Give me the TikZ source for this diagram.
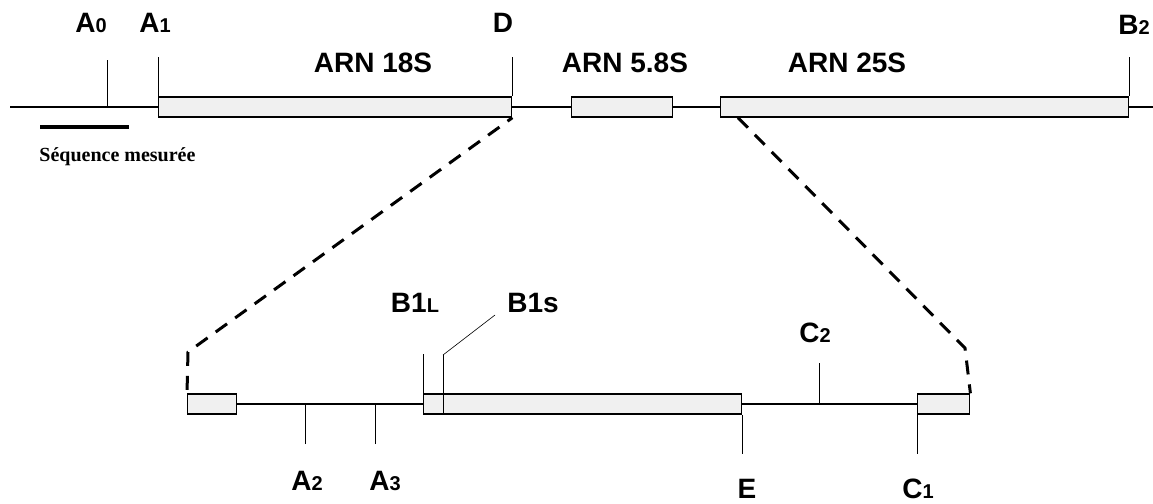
\documentclass[tikz,border=0pt]{standalone}
\usepackage{fontspec}
\setmainfont{Liberation Serif}
\setsansfont{Liberation Sans}
\usetikzlibrary{calc,positioning}

\newcommand{\smallpart}[1]{{\fontsize{10}{10}\selectfont #1}}

\begin{document}
\begin{tikzpicture}[x=0.5pt, y=-0.5pt,
  seg/.style={draw, line width=0.7pt, fill=gray!12, minimum height=10pt, inner sep=0pt, anchor=west},
  mainline/.style={line width=1pt},
  tick/.style={line width=0.5pt},
  lab/.style={font=\sffamily\bfseries\fontsize{14}{14}\selectfont, inner sep=0pt},
  zoomline/.style={line width=1.5pt, dash pattern=on 7pt off 5pt}
]
\useasboundingbox (0,0) rectangle (1153,504);

% precurseur
\coordinate (start) at (10,107);
\coordinate (end) at (1153,107);
\draw[mainline] (start) -- (end);
\node[seg, minimum width=176.5pt] (r18) at (158,107) {};
\node[seg, minimum width=50.5pt] (r58) at (571,107) {};
\node[seg, minimum width=204pt] (r25) at (720,107) {};

% sites de coupure
\coordinate (tA0) at (107,60);
\coordinate (tA1) at ($(r18.north west)+(0,-39)$);
\coordinate (tD) at ($(r18.north east)+(0,-39)$);
\coordinate (tB2) at ($(r25.north east)+(0,-39)$);
\draw[tick] (tA0) -- (tA0 |- start);
\draw[tick] (tA1) -- (r18.north west);
\draw[tick] (tD) -- (r18.north east);
\draw[tick] (tB2) -- (r25.north east);

\node[lab] (lA0) at (91,23) {A\smallpart{0}};
\node[lab] (lA1) at (155,23) {A\smallpart{1}};
\node[lab] (lD) at (503,23) {D};
\node[lab] (lB2) at (1134,25) {B\smallpart{2}};
\node[lab] (l18) at (373,63) {ARN 18S};
\node[lab] (l58) at (625,63) {ARN 5.8S};
\node[lab] (l25) at (847,63) {ARN 25S};

% sequence mesuree
\coordinate (m1) at (40,127);
\coordinate (m2) at (129,127);
\draw[line width=2.4pt] (m1) -- (m2);
\node[font=\rmfamily\bfseries\fontsize{10}{11}\selectfont, anchor=west, inner sep=0pt] (seq) at (39,157) {Séquence mesurée};

% agrandissement
\node[seg, minimum width=24.5pt] (s1) at (187,404) {};
\node[seg, minimum width=159pt] (s2) at (423,404) {};
\node[seg, minimum width=26pt] (s3) at (917,404) {};
\draw[mainline] (s1.east) -- (s2.west);
\draw[mainline] (s2.east) -- (s3.west);

\coordinate (tA2) at (305,444);
\coordinate (tA3) at (375,444);
\coordinate (tE) at ($(s2.south east)+(0,39)$);
\coordinate (tC1) at ($(s3.south west)+(0,39)$);
\coordinate (tC2) at (819,363);
\coordinate (tB1L) at ($(s2.north west)+(0,-39)$);
\coordinate (tB1s) at (443,355);
\coordinate (lead) at (495,315);
\draw[tick] (tA2) -- (tA2 |- s1.east);
\draw[tick] (tA3) -- (tA3 |- s1.east);
\draw[tick] (tE) -- (s2.south east);
\draw[tick] (tC1) -- (s3.south west);
\draw[tick] (tC2) -- (tC2 |- s1.east);
\draw[tick] (tB1L) -- (s2.north west);
\draw[tick] (tB1s) -- (tB1s |- s2.south);
\draw[line width=0.3pt] (tB1s) -- (lead);

\node[lab] (lA2) at (307,481) {A\smallpart{2}};
\node[lab] (lA3) at (385,481) {A\smallpart{3}};
\node[lab] (lE) at (747,489) {E};
\node[lab] (lC1) at (918,489) {C\smallpart{1}};
\node[lab] (lC2) at (815,333) {C\smallpart{2}};
\node[lab] (lB1L) at (415,303) {B1\smallpart{L}};
\node[lab] (lB1s) at (533,303) {B1s};

% lignes de zoom
\coordinate (zl) at (188,352);
\coordinate (z25) at ($(r25.south west)+(18,0)$);
\coordinate (zr) at (965,348);
\draw[zoomline, dash phase=4pt] (r18.south east) -- (zl) -- (s1.north west);
\draw[zoomline] (z25) -- (zr) -- (s3.north east);
\end{tikzpicture}
\end{document}
